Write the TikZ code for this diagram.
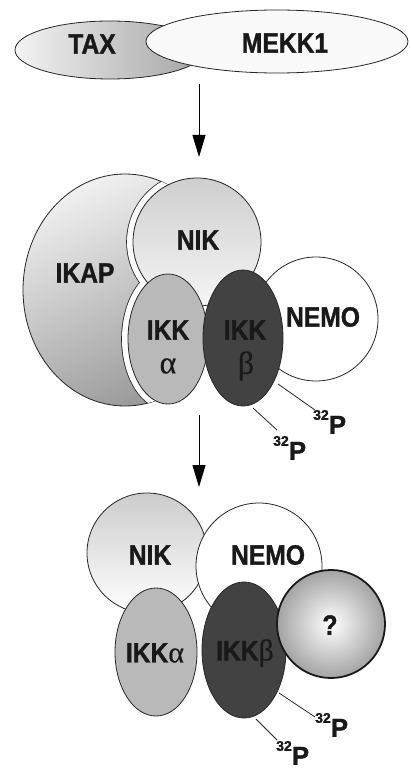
\documentclass[tikz,border=0pt]{standalone}
\usepackage{fontspec}
\setmainfont{Liberation Sans}
\newfontfamily\lab{Liberation Sans}[FakeStretch=0.88, BoldFeatures={FakeBold=1.2}]
\newfontfamily\pfont{Liberation Sans}[BoldFeatures={FakeBold=1.2}]
\newfontfamily\grk{Liberation Serif}[FakeBold=0.4]
\usetikzlibrary{arrows.meta}
\tikzset{
  lbl/.style={inner sep=0pt, text=black!90, font=\lab\bfseries\fontsize{28}{28}\selectfont},
  gk/.style={inner sep=0pt, text=black!90, font=\grk\fontsize{32}{32}\selectfont},
  plbl/.style={inner sep=0pt, anchor=south west, text=black!90},
  edge/.style={draw=black!85, line width=0.8pt},
  flow/.style={line width=0.9pt, -{Triangle[length=22pt,width=13pt]}},
  plink/.style={line width=0.8pt, black!85}
}
\newcommand{\Pl}{{\raisebox{14pt}{\pfont\bfseries\fontsize{14}{14}\selectfont 32}}{\pfont\bfseries\fontsize{26}{26}\selectfont P}}
\begin{document}
\begin{tikzpicture}[x=1pt,y=-1pt]
\useasboundingbox (0,0) rectangle (410,770);
% ---------- top: TAX / MEKK1 ----------
\shade[left color=gray!10, right color=gray!72] (110,50) ellipse [x radius=95pt, y radius=29pt];
\draw[edge] (110,50) ellipse [x radius=95pt, y radius=29pt];
\filldraw[edge, fill=gray!5] (277,41.5) ellipse [x radius=131pt, y radius=31.5pt];
\node[lbl] (tax) at (92,44) {TAX};
\node[lbl] (mekk) at (285,43) {MEKK1};
\coordinate (a1s) at (199,84);
\coordinate (a1e) at (199,157);
\draw[flow] (a1s) -- (a1e);
% ---------- middle complex ----------
\shade[top color=gray!12, bottom color=gray!80, shading angle=25] (125,290) ellipse [x radius=102pt, y radius=116pt];
\draw[edge] (125,290) ellipse [x radius=102pt, y radius=116pt];
\begin{scope}
  \clip (125,290) ellipse [x radius=102pt, y radius=116pt];
  \draw[black!85, line width=1.6pt] (197,242) circle [radius=70pt];
  \draw[black!85, line width=1.6pt] (168,339) ellipse [x radius=46pt, y radius=71pt];
  \fill[white] (197,242) circle [radius=70pt];
  \fill[white] (168,339) ellipse [x radius=46pt, y radius=71pt];
\end{scope}
\filldraw[edge, fill=white] (316,319) circle [radius=62pt];
\shade[top color=gray!38, bottom color=gray!8] (197,242) circle [radius=64pt];
\draw[edge] (197,242) circle [radius=64pt];
\filldraw[edge, fill=gray!55] (168,339) ellipse [x radius=40pt, y radius=65pt];
\filldraw[edge, fill=black!74] (243,338) ellipse [x radius=40pt, y radius=68pt];
\node[lbl] (ikap) at (85,273) {IKAP};
\node[lbl] (nik1) at (198,240) {NIK};
\node[lbl] (nemo1) at (323,317) {NEMO};
\node[lbl] (ikka1) at (168,330) {IKK};
\node[gk] (alpha1) at (168,366) {α};
\node[lbl] (ikkb1) at (245,330) {IKK};
\node[gk] (beta1) at (246,366) {β};
\coordinate (m1s) at (278,384);
\coordinate (m1e) at (315,410);
\coordinate (m2s) at (253,408);
\coordinate (m2e) at (277,430);
\draw[plink] (m1s) -- (m1e);
\draw[plink] (m2s) -- (m2e);
\node[plbl] (pm1) at (313,434) {\Pl};
\node[plbl] (pm2) at (273,460) {\Pl};
\coordinate (a2s) at (199,415);
\coordinate (a2e) at (199,487);
\draw[flow] (a2s) -- (a2e);
% ---------- bottom complex ----------
\shade[top color=gray!40, bottom color=white] (147,553) circle [radius=60pt];
\draw[edge] (147,553) circle [radius=60pt];
\filldraw[edge, fill=white] (259,566) circle [radius=63pt];
\filldraw[edge, fill=gray!55] (156,652) ellipse [x radius=41pt, y radius=64pt];
\filldraw[edge, fill=black!74] (244,650) ellipse [x radius=42pt, y radius=68pt];
\shade[inner color=white, outer color=gray!72] (331,624) circle [radius=54pt];
\draw[black!90, line width=1.8pt] (331,624) circle [radius=54pt];
\node[lbl] (nik2) at (150,555) {NIK};
\node[lbl] (nemo2) at (268,555) {NEMO};
\node[lbl] (ikka2) at (155,653) {IKK{\grk\mdseries\fontsize{30}{30}\selectfont α}};
\node[lbl] (ikkb2) at (245,653) {IKK{\grk\mdseries\fontsize{30}{30}\selectfont β}};
\node[lbl] (q) at (330,625) {?};
\coordinate (b1s) at (279,693);
\coordinate (b1e) at (315,717);
\coordinate (b2s) at (256,719);
\coordinate (b2e) at (277,740);
\draw[plink] (b1s) -- (b1e);
\draw[plink] (b2s) -- (b2e);
\node[plbl] (pb1) at (315,737) {\Pl};
\node[plbl] (pb2) at (276,765) {\Pl};
\end{tikzpicture}
\end{document}
